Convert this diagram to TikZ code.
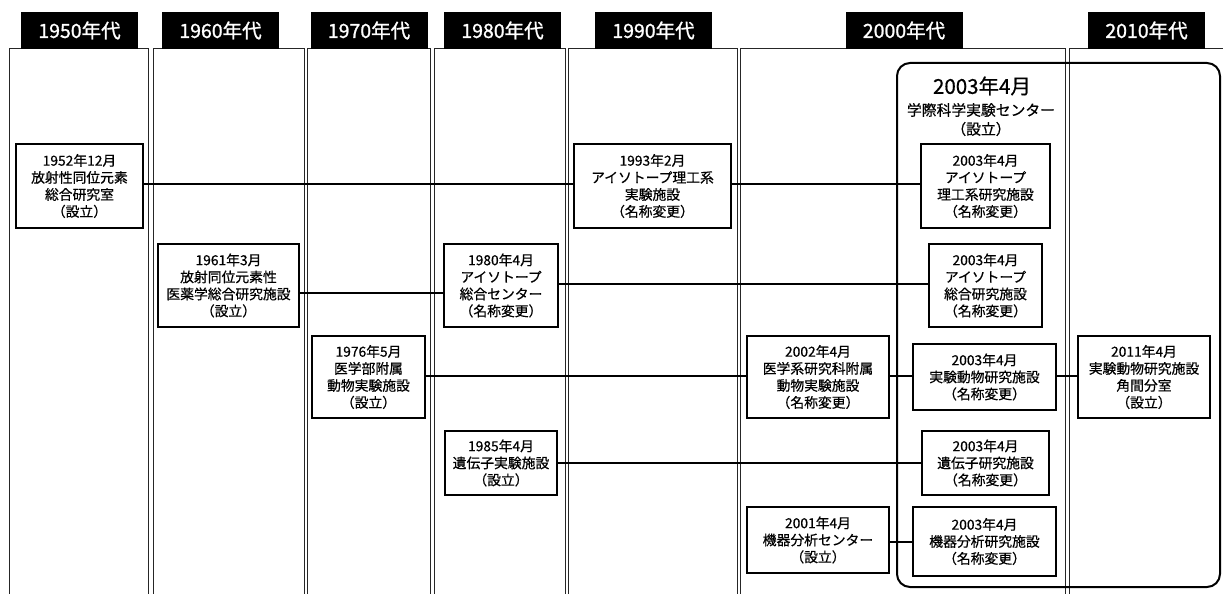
\documentclass[tikz,border=0pt]{standalone}
\usepackage{fontspec}
\setmainfont{Noto Sans CJK JP}
\newfontfamily\boxfont{Noto Sans CJK JP}[FakeBold=0.6]
\newfontfamily\tabfont{Noto Sans CJK JP}[FakeBold=1.2]

\tikzset{
  decade/.style={fill=black, text=white, minimum width=117pt, minimum height=37pt, inner sep=0pt, font=\tabfont\fontsize{19.5}{19.5}\selectfont},
  era/.style={draw=black!85, line width=1pt},
  unit/.style={draw, fill=white, line width=1.6pt, inner sep=0pt, align=center, font=\boxfont\fontsize{13.8}{17}\selectfont},
  link/.style={line width=1.8pt},
}

\begin{document}
\begin{tikzpicture}[x=1pt,y=-1pt]
    \clip (0,0) rectangle (1223,594);
    \fill[white] (0,0) rectangle (1223,594);

    % decade columns
    \draw[era] (9,49) rectangle (148,620);
    \draw[era] (153,49) rectangle (304,620);
    \draw[era] (307,49) rectangle (430,620);
    \draw[era] (434,49) rectangle (565,620);
    \draw[era] (568,49) rectangle (737,620);
    \draw[era] (740,49) rectangle (1065,620);
    \draw[era] (1069,49) rectangle (1240,620);

    \node[decade] (d1950) at (79.5,30.5) {1950年代};
    \node[decade] (d1960) at (220.5,30.5) {1960年代};
    \node[decade] (d1970) at (369,30.5) {1970年代};
    \node[decade] (d1980) at (502.5,30.5) {1980年代};
    \node[decade] (d1990) at (653.5,30.5) {1990年代};
    \node[decade] (d2000) at (904,30.5) {2000年代};
    \node[decade] (d2010) at (1146.5,30.5) {2010年代};

    % 2003 center
    \draw[line width=2pt, rounded corners=13pt] (897,63) rectangle (1220,587);
    \node[font=\boxfont\fontsize{20.5}{20.5}\selectfont] (c2003) at (982,86) {2003年4月};
    \node[font=\boxfont\fontsize{14.8}{14.8}\selectfont] (cname) at (981,110) {学際科学実験センター};
    \node[font=\boxfont\fontsize{14.8}{14.8}\selectfont] (cnote) at (981,129) {（設立）};

    % facilities
    \node[unit, minimum width=127pt, minimum height=84pt] (r1952) at (79.5,186)
        {1952年12月\\放射性同位元素\\総合研究室\\（設立）};
    \node[unit, minimum width=157pt, minimum height=84pt] (r1993) at (652.5,186)
        {1993年2月\\アイソトープ理工系\\実験施設\\（名称変更）};
    \node[unit, minimum width=129pt, minimum height=84pt] (r2003a) at (985.5,186)
        {2003年4月\\アイソトープ\\理工系研究施設\\（名称変更）};

    \node[unit, minimum width=141pt, minimum height=83pt] (r1961) at (228.5,285.5)
        {1961年3月\\放射同位元素性\\医薬学総合研究施設\\（設立）};
    \node[unit, minimum width=114pt, minimum height=83pt] (r1980) at (501,285.5)
        {1980年4月\\アイソトープ\\総合センター\\（名称変更）};
    \node[unit, minimum width=113pt, minimum height=83pt] (r2003b) at (985.5,285.5)
        {2003年4月\\アイソトープ\\総合研究施設\\（名称変更）};

    \node[unit, minimum width=113pt, minimum height=82pt] (r1976) at (368.5,377)
        {1976年5月\\医学部附属\\動物実験施設\\（設立）};
    \node[unit, minimum width=142pt, minimum height=82pt] (r2002) at (818,377)
        {2002年4月\\医学系研究科附属\\動物実験施設\\（名称変更）};
    \node[unit, minimum width=143pt, minimum height=66pt] (r2003c) at (984.5,377)
        {2003年4月\\実験動物研究施設\\（名称変更）};
    \node[unit, minimum width=132pt, minimum height=82pt] (r2011) at (1144,377)
        {2011年4月\\実験動物研究施設\\角間分室\\（設立）};

    \node[unit, minimum width=112pt, minimum height=64pt] (r1985) at (501,463)
        {1985年4月\\遺伝子実験施設\\（設立）};
    \node[unit, minimum width=127pt, minimum height=64pt] (r2003d) at (985.5,463)
        {2003年4月\\遺伝子研究施設\\（名称変更）};

    \node[unit, minimum width=142pt, minimum height=66pt] (r2001) at (818,540)
        {2001年4月\\機器分析センター\\（設立）};
    \node[unit, minimum width=143pt, minimum height=69pt] (r2003e) at (984.5,541.5)
        {2003年4月\\機器分析研究施設\\（名称変更）};

    % lines
    \draw[link] ([yshift=2pt]r1952.east) -- ([yshift=2pt]r1993.west);
    \draw[link] ([yshift=2pt]r1993.east) -- ([yshift=2pt]r2003a.west);
    \draw[link] ([yshift=-7.5pt]r1961.east) -- ([yshift=-7.5pt]r1980.west);
    \draw[link] ([yshift=1.5pt]r1980.east) -- ([yshift=1.5pt]r2003b.west);
    \draw[link] ([yshift=1pt]r1976.east) -- ([yshift=1pt]r2002.west);
    \draw[link] ([yshift=1pt]r2002.east) -- ([yshift=1pt]r2003c.west);
    \draw[link] ([yshift=1pt]r2003c.east) -- ([yshift=1pt]r2011.west);
    \draw[link] (r1985.east) -- (r2003d.west);
    \draw[link] ([yshift=-0.5pt]r2001.east |- r2003e.west) -- ([yshift=-0.5pt]r2003e.west);
  \end{tikzpicture}
\end{document}
